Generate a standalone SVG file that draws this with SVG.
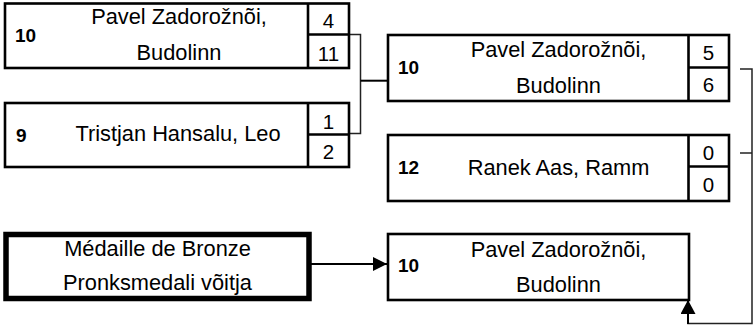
<svg xmlns="http://www.w3.org/2000/svg" width="755" height="327" viewBox="0 0 755 327">
<defs>
<style>
.box{fill:#fff;stroke:#000;stroke-width:2.6}
.sep{stroke:#000;stroke-width:2.6;fill:none}
.thick{fill:#fff;stroke:#000;stroke-width:5.5}
.name{font-family:"Liberation Sans",Arial,sans-serif;font-size:21.8px;fill:#000;text-anchor:middle}
.score{font-family:"Liberation Sans",Arial,sans-serif;font-size:20.5px;fill:#000;text-anchor:middle}
.seed{font-family:"Liberation Sans",Arial,sans-serif;font-size:19px;font-weight:bold;fill:#000}
.conn{stroke:#222;stroke-width:1.5;fill:none}
.conn2{stroke:#000;stroke-width:2;fill:none}
</style>
<marker id="ah" viewBox="0 0 14 14" refX="14" refY="7" markerWidth="14" markerHeight="14" markerUnits="userSpaceOnUse" orient="auto">
<path d="M0,0 L14,7 L0,14 Z" fill="#000"/>
</marker>
<marker id="ahUp" viewBox="0 0 14 15" refX="14" refY="7.5" markerWidth="14" markerHeight="15" markerUnits="userSpaceOnUse" orient="auto">
<path d="M0,0 L14,7.5 L0,15 Z" fill="#000"/>
</marker>
</defs>
<rect width="755" height="327" fill="#fff"/>

<g id="connectors">
<path class="conn" d="M349,34.5 H360.5 V133.5 H349"/>
<line class="conn2" x1="360.5" y1="80.7" x2="388" y2="80.7"/>
<path class="conn" d="M740,69 H752 V323.5 H688 V312"/>
<line class="conn" x1="740" y1="153" x2="752" y2="153"/>
<line class="conn2" x1="688" y1="324" x2="688" y2="300" marker-end="url(#ahUp)"/>
<line class="conn2" x1="311" y1="264" x2="387" y2="264" marker-end="url(#ah)"/>
</g>

<g id="match1-top">
<rect class="box" x="5" y="3.5" width="344" height="64.5"/>
<line class="sep" x1="308" y1="3.5" x2="308" y2="68"/>
<line class="sep" x1="308" y1="34.5" x2="349" y2="34.5"/>
<text class="seed" x="15" y="42">10</text>
<text class="name" x="179" y="24">Pavel Zadorožnõi,</text>
<text class="name" x="179" y="60">Budolinn</text>
<text class="score" x="328.5" y="28">4</text>
<text class="score" x="328.5" y="60.5">11</text>
</g>

<g id="match1-bottom">
<rect class="box" x="5" y="103" width="344" height="64"/>
<line class="sep" x1="308" y1="103" x2="308" y2="167"/>
<line class="sep" x1="308" y1="134.5" x2="349" y2="134.5"/>
<text class="seed" x="16" y="142">9</text>
<text class="name" x="178" y="141">Tristjan Hansalu, Leo</text>
<text class="score" x="328.5" y="128.5">1</text>
<text class="score" x="328.5" y="158.5">2</text>
</g>

<g id="match2-top">
<rect class="box" x="388" y="35" width="341" height="66"/>
<line class="sep" x1="688.5" y1="35" x2="688.5" y2="101"/>
<line class="sep" x1="688.5" y1="67.5" x2="729" y2="67.5"/>
<text class="seed" x="398" y="73.5">10</text>
<text class="name" x="558.5" y="56.5">Pavel Zadorožnõi,</text>
<text class="name" x="558.5" y="92.5">Budolinn</text>
<text class="score" x="708.5" y="60">5</text>
<text class="score" x="708.5" y="92">6</text>
</g>

<g id="match2-bottom">
<rect class="box" x="388" y="135" width="341" height="66"/>
<line class="sep" x1="688.5" y1="135" x2="688.5" y2="201"/>
<line class="sep" x1="688.5" y1="166.5" x2="729" y2="166.5"/>
<text class="seed" x="398" y="174">12</text>
<text class="name" x="558.5" y="175">Ranek Aas, Ramm</text>
<text class="score" x="708.5" y="160">0</text>
<text class="score" x="708.5" y="192">0</text>
</g>

<g id="bronze-label">
<rect class="thick" x="6" y="234.5" width="303" height="64"/>
<text class="name" x="157.5" y="255.5">Médaille de Bronze</text>
<text class="name" x="157.5" y="289.5">Pronksmedali võitja</text>
</g>

<g id="bronze-winner">
<rect class="box" x="388" y="234" width="301" height="66"/>
<text class="seed" x="398" y="271.5">10</text>
<text class="name" x="558.5" y="256.5">Pavel Zadorožnõi,</text>
<text class="name" x="558.5" y="292">Budolinn</text>
</g>
</svg>
